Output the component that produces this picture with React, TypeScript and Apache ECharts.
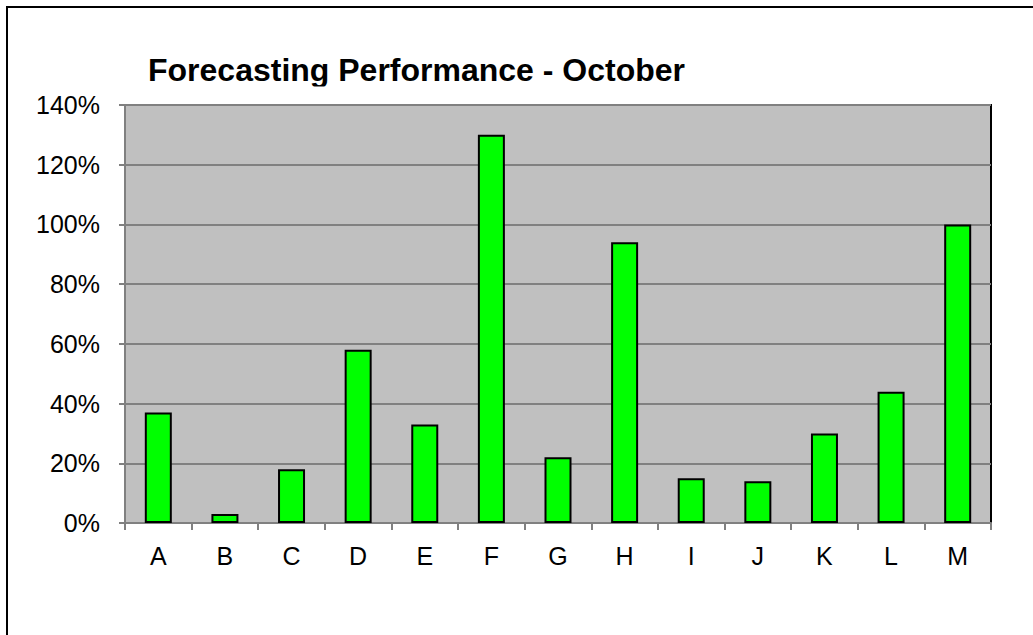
import React, { useEffect, useRef } from "react";
import * as echarts from "echarts";

const categories = ["A", "B", "C", "D", "E", "F", "G", "H", "I", "J", "K", "L", "M"];
const performance = [37, 3, 18, 58, 33, 130, 22, 94, 15, 14, 30, 44, 100];
const yTicks = { min: 0, max: 140, interval: 20 };
const titleText = "Forecasting Performance - October";

const FONT = 'Arial, "Liberation Sans", sans-serif';

export default function App() {
  const ref = useRef<HTMLDivElement>(null);
  useEffect(() => {
    if (!ref.current) return;
    const chart = echarts.init(ref.current, undefined, { renderer: "svg" });
    chart.setOption({
      animation: false,
      backgroundColor: "#ffffff",
      title: {
        text: titleText,
        left: 148,
        top: 54,
        padding: 0,
        textStyle: { fontFamily: FONT, fontSize: 32, fontWeight: "bold", color: "#000" },
      },
      graphic: [
        {
          type: "rect",
          shape: { x: 7, y: 7, width: 1100, height: 700 },
          style: { fill: "none", stroke: "#000", lineWidth: 2 },
          silent: true,
          z: 100,
        },
        {
          type: "rect",
          shape: { x: 140, y: 86.5, width: 580, height: 16 },
          style: { fill: "#ffffff" },
          silent: true,
          z: 100,
        },
      ],
      grid: {
        left: 125,
        top: 105,
        right: 42,
        bottom: 112,
        show: true,
        backgroundColor: "#C0C0C0",
        borderColor: "#000",
        borderWidth: 2,
        containLabel: false,
      },
      xAxis: {
        type: "category",
        data: categories,
        boundaryGap: true,
        axisLine: { show: true, lineStyle: { color: "#808080", width: 2 } },
        axisTick: { show: true, alignWithLabel: false, length: 7, lineStyle: { color: "#808080", width: 2 } },
        axisLabel: { fontFamily: FONT, fontSize: 25, color: "#000", margin: 20 },
        splitLine: { show: false },
      },
      yAxis: {
        type: "value",
        min: yTicks.min,
        max: yTicks.max,
        interval: yTicks.interval,
        axisLine: { show: true, lineStyle: { color: "#808080", width: 2 } },
        axisTick: { show: true, length: 6, lineStyle: { color: "#808080", width: 2 } },
        axisLabel: { fontFamily: FONT, fontSize: 25, color: "#000", margin: 25, formatter: "{value}%" },
        splitLine: { show: true, lineStyle: { color: "#808080", width: 2 } },
      },
      series: [
        {
          type: "bar",
          data: performance,
          barWidth: 27,
          itemStyle: { color: "#00FF00", borderColor: "#000", borderWidth: 2 },
        },
      ],
    });
    return () => chart.dispose();
  }, []);
  return (
    <div
      ref={ref}
      style={{ position: "fixed", left: 0, top: 0, width: 1033, height: 635 }}
    />
  );
}
